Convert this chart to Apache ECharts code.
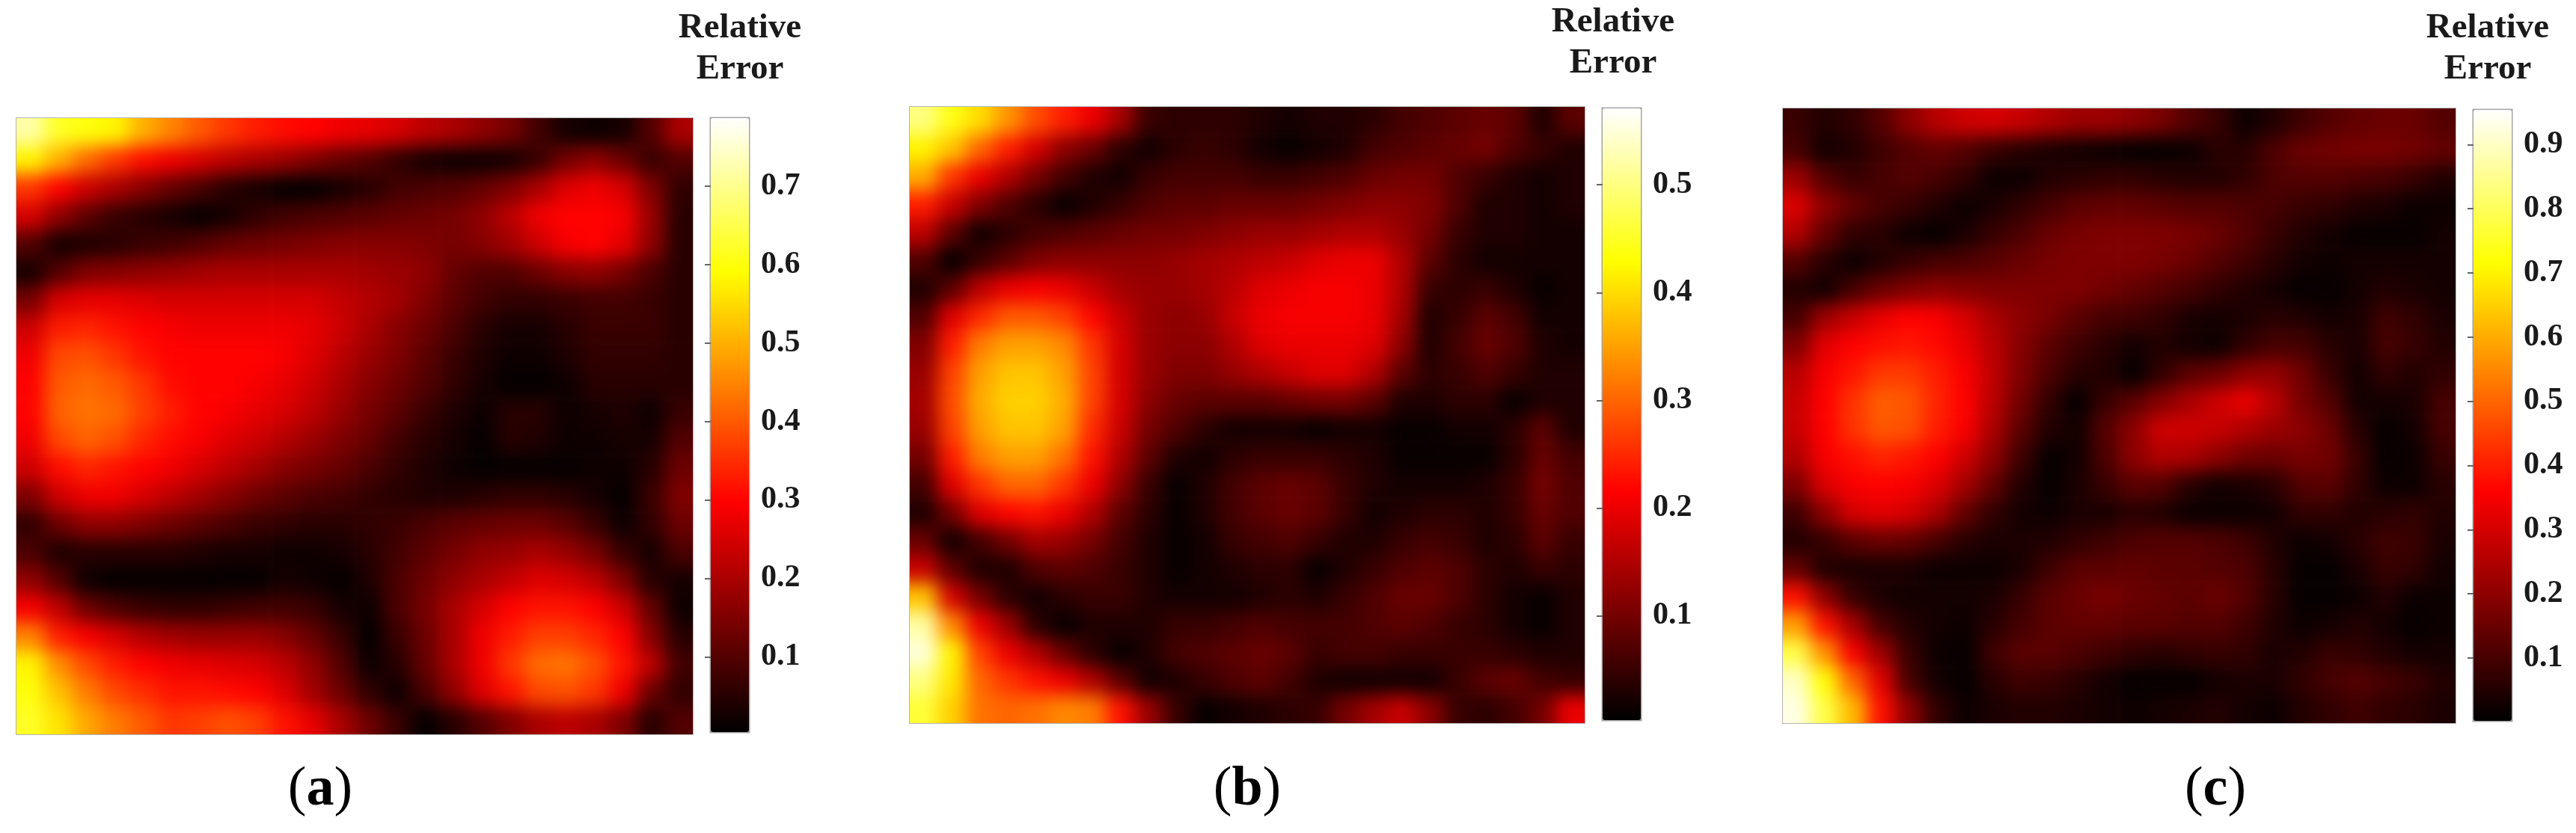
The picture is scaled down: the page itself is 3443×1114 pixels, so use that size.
<!DOCTYPE html>
<html>
<head>
<meta charset="utf-8">
<title>Relative Error</title>
<script src="https://cdn.jsdelivr.net/npm/echarts@6/dist/echarts.min.js"></script>
<style>
html, body { margin: 0; padding: 0; background: #fff; }
#page { position: relative; width: 3443px; height: 1114px; overflow: hidden; }
.plot { position: absolute; overflow: hidden; outline: 2px solid #b4b4b4; outline-offset: -1px; }
.heat { position: absolute; filter: blur(12px); }
#overlay { position: absolute; left: 0; top: 0; width: 3443px; height: 1114px; pointer-events: none; }
</style>
</head>
<body>
<div id="page"></div>
<script>
// values, row by row from the top
const errorA = [
[.72,.62,.60,.58,.50,.45,.40,.36,.33,.31,.30,.28,.27,.25,.22,.20,.17,.14,.08,.03,.02,.03,.10,.20],
[.58,.50,.42,.36,.31,.28,.25,.22,.20,.18,.15,.12,.10,.06,.03,.02,.02,.03,.07,.14,.17,.13,.07,.10],
[.36,.30,.24,.20,.16,.12,.09,.05,.03,.01,.01,.03,.05,.08,.09,.10,.12,.15,.20,.26,.28,.25,.15,.06],
[.25,.17,.11,.07,.05,.03,.01,.03,.06,.08,.09,.10,.11,.12,.13,.14,.17,.22,.28,.30,.30,.29,.18,.05],
[.10,.03,.04,.05,.07,.08,.10,.12,.13,.14,.15,.16,.16,.16,.15,.14,.16,.19,.24,.29,.30,.27,.17,.05],
[.03,.10,.15,.16,.17,.18,.19,.20,.20,.20,.20,.20,.19,.18,.17,.12,.10,.10,.13,.16,.17,.14,.09,.05],
[.14,.25,.27,.27,.26,.25,.25,.25,.25,.25,.25,.23,.21,.19,.15,.11,.08,.06,.06,.07,.08,.08,.07,.05],
[.24,.33,.34,.32,.30,.29,.28,.28,.28,.28,.27,.24,.20,.16,.13,.09,.05,.03,.03,.05,.07,.07,.07,.05],
[.28,.38,.39,.36,.32,.30,.30,.30,.30,.29,.26,.22,.18,.15,.11,.07,.04,.02,.02,.04,.06,.06,.06,.05],
[.30,.40,.42,.40,.36,.31,.30,.30,.29,.27,.24,.20,.16,.13,.10,.06,.03,.01,.01,.02,.05,.05,.05,.05],
[.30,.41,.43,.42,.37,.33,.30,.29,.27,.25,.22,.18,.14,.11,.07,.04,.02,.05,.05,.02,.03,.04,.02,.07],
[.28,.38,.41,.39,.34,.31,.29,.26,.24,.21,.18,.15,.12,.08,.05,.03,.01,.05,.04,.02,.02,.03,.03,.10],
[.24,.31,.34,.32,.30,.28,.25,.22,.19,.16,.14,.12,.09,.06,.04,.02,.01,.01,.01,.01,.02,.02,.05,.13],
[.15,.24,.28,.28,.25,.22,.19,.16,.13,.11,.09,.08,.06,.05,.04,.04,.05,.06,.06,.05,.03,.01,.07,.15],
[.06,.13,.17,.17,.15,.13,.11,.09,.07,.06,.05,.05,.06,.07,.09,.11,.12,.13,.13,.11,.07,.02,.06,.13],
[.09,.04,.05,.05,.05,.05,.04,.03,.03,.02,.02,.03,.05,.08,.11,.14,.17,.18,.20,.18,.14,.07,.03,.09],
[.17,.10,.02,.01,.01,.01,.01,.01,.01,.03,.02,.01,.04,.09,.13,.17,.20,.23,.26,.25,.22,.15,.05,.03],
[.29,.22,.13,.09,.07,.06,.06,.07,.08,.08,.07,.03,.02,.09,.14,.20,.25,.30,.32,.32,.30,.24,.12,.02],
[.45,.33,.29,.25,.21,.19,.18,.18,.18,.16,.12,.07,.01,.07,.13,.20,.28,.33,.37,.37,.34,.30,.16,.05],
[.58,.46,.38,.33,.30,.28,.27,.26,.25,.22,.17,.10,.02,.05,.12,.20,.28,.36,.42,.43,.39,.32,.22,.08],
[.60,.52,.44,.38,.35,.32,.32,.31,.30,.26,.19,.13,.06,.02,.09,.17,.26,.32,.38,.39,.36,.28,.13,.06],
[.62,.56,.49,.44,.40,.36,.37,.39,.37,.32,.27,.20,.13,.07,.01,.05,.10,.15,.20,.22,.20,.15,.05,.10]
];
const errorB = [
[.50,.44,.40,.34,.28,.24,.20,.14,.05,.04,.04,.04,.03,.02,.03,.03,.04,.06,.07,.08,.09,.08,.03,.08],
[.42,.38,.30,.24,.18,.12,.09,.04,.02,.04,.05,.04,.02,.01,.02,.03,.06,.07,.08,.09,.10,.07,.05,.03],
[.36,.26,.20,.15,.10,.06,.03,.02,.05,.06,.06,.06,.05,.05,.06,.07,.09,.10,.10,.07,.05,.03,.02,.03],
[.24,.17,.11,.07,.04,.01,.03,.05,.07,.08,.08,.09,.09,.09,.10,.11,.12,.12,.11,.07,.03,.03,.02,.03],
[.16,.08,.02,.04,.06,.07,.08,.09,.10,.10,.11,.12,.13,.13,.14,.15,.15,.13,.10,.05,.03,.03,.02,.02],
[.07,.01,.05,.08,.11,.12,.12,.12,.12,.13,.14,.15,.16,.17,.19,.20,.20,.15,.08,.04,.02,.02,.02,.02],
[.03,.08,.16,.20,.21,.20,.17,.14,.13,.13,.14,.16,.19,.20,.21,.21,.20,.15,.05,.04,.05,.03,.01,.02],
[.07,.19,.25,.29,.29,.27,.22,.17,.13,.12,.13,.17,.20,.21,.21,.21,.20,.14,.03,.05,.08,.06,.02,.02],
[.11,.24,.32,.35,.35,.33,.26,.18,.13,.12,.12,.15,.19,.20,.20,.20,.19,.12,.03,.06,.09,.07,.03,.02],
[.13,.27,.35,.38,.38,.35,.27,.18,.13,.11,.11,.13,.15,.17,.19,.19,.15,.08,.04,.05,.07,.05,.03,.03],
[.14,.28,.36,.39,.39,.36,.27,.18,.12,.09,.08,.08,.08,.09,.10,.10,.08,.03,.03,.04,.04,.01,.03,.03],
[.13,.27,.35,.38,.38,.35,.25,.17,.10,.07,.04,.02,.02,.02,.01,.02,.02,.01,.01,.02,.02,.04,.08,.03],
[.10,.24,.32,.35,.35,.31,.23,.15,.08,.03,.02,.04,.05,.05,.05,.04,.03,.01,.01,.01,.01,.04,.09,.06],
[.06,.19,.26,.30,.30,.26,.20,.12,.05,.01,.03,.06,.08,.09,.08,.05,.03,.02,.02,.02,.03,.05,.10,.07],
[.03,.10,.19,.22,.23,.20,.15,.08,.04,.01,.03,.06,.08,.09,.08,.05,.02,.03,.04,.04,.03,.05,.09,.07],
[.09,.02,.06,.10,.14,.13,.10,.06,.03,.01,.02,.05,.06,.07,.05,.03,.03,.05,.06,.05,.03,.04,.08,.05],
[.17,.08,.03,.03,.07,.08,.07,.05,.03,.01,.02,.03,.04,.04,.01,.03,.05,.07,.08,.07,.04,.03,.05,.04],
[.38,.18,.10,.04,.02,.04,.05,.05,.03,.02,.02,.02,.03,.04,.03,.05,.07,.09,.09,.07,.04,.02,.01,.03],
[.52,.33,.20,.13,.04,.01,.03,.03,.03,.05,.05,.06,.07,.06,.06,.06,.07,.08,.07,.05,.04,.02,.01,.03],
[.55,.42,.27,.20,.15,.09,.04,.01,.03,.06,.07,.08,.09,.08,.05,.06,.06,.05,.05,.05,.05,.04,.03,.03],
[.50,.41,.30,.26,.23,.20,.15,.08,.02,.03,.05,.07,.08,.06,.03,.02,.02,.02,.02,.05,.08,.09,.06,.05],
[.46,.39,.31,.30,.31,.33,.32,.23,.13,.05,.01,.02,.03,.04,.05,.10,.14,.17,.12,.05,.04,.06,.10,.20]
];
const errorC = [
[.08,.05,.07,.12,.20,.26,.29,.30,.28,.25,.22,.22,.20,.17,.12,.08,.02,.05,.09,.12,.14,.15,.15,.12],
[.10,.03,.05,.09,.12,.14,.12,.08,.06,.04,.03,.02,.01,.01,.02,.06,.06,.11,.15,.16,.17,.17,.16,.14],
[.22,.12,.08,.10,.12,.10,.07,.02,.02,.05,.06,.07,.07,.06,.05,.05,.07,.11,.12,.12,.11,.10,.08,.05],
[.31,.20,.14,.10,.08,.05,.02,.04,.07,.10,.13,.14,.14,.13,.12,.12,.11,.10,.08,.07,.05,.04,.02,.02],
[.25,.14,.07,.06,.02,.01,.04,.08,.11,.15,.17,.18,.18,.18,.17,.15,.12,.08,.05,.03,.01,.01,.01,.03],
[.12,.06,.02,.05,.08,.10,.11,.13,.15,.17,.18,.18,.18,.17,.15,.12,.09,.06,.03,.02,.03,.03,.03,.03],
[.05,.03,.10,.15,.18,.20,.19,.18,.18,.18,.18,.16,.14,.12,.10,.07,.05,.03,.01,.01,.03,.05,.04,.03],
[.10,.22,.28,.33,.36,.35,.30,.24,.20,.17,.13,.10,.09,.07,.04,.03,.04,.06,.05,.03,.04,.09,.07,.04],
[.18,.32,.36,.38,.39,.37,.33,.26,.19,.13,.09,.06,.03,.05,.03,.02,.07,.10,.10,.06,.04,.10,.08,.05],
[.26,.35,.39,.44,.44,.40,.35,.27,.18,.11,.06,.05,.01,.07,.13,.15,.20,.21,.16,.08,.03,.07,.05,.07],
[.28,.36,.43,.49,.48,.41,.36,.26,.16,.07,.01,.08,.13,.19,.24,.29,.33,.26,.17,.12,.03,.03,.04,.10],
[.28,.36,.43,.48,.47,.40,.35,.24,.13,.05,.03,.12,.20,.29,.29,.28,.25,.22,.20,.15,.06,.01,.03,.10],
[.25,.35,.38,.41,.39,.36,.29,.20,.09,.01,.03,.11,.20,.25,.24,.20,.16,.15,.17,.16,.08,.01,.02,.08],
[.18,.31,.35,.36,.35,.31,.23,.14,.05,.01,.04,.08,.13,.12,.06,.03,.04,.06,.12,.13,.07,.02,.02,.06],
[.09,.20,.30,.32,.30,.24,.14,.07,.03,.02,.04,.04,.06,.05,.02,.02,.02,.03,.07,.07,.05,.06,.07,.05],
[.05,.08,.13,.15,.14,.10,.06,.04,.04,.05,.07,.09,.11,.12,.12,.11,.09,.05,.02,.03,.06,.09,.08,.04],
[.14,.05,.04,.04,.04,.02,.02,.02,.04,.09,.13,.13,.14,.13,.13,.12,.11,.06,.01,.01,.04,.08,.07,.03],
[.38,.20,.08,.04,.03,.03,.03,.04,.08,.13,.15,.17,.15,.14,.13,.15,.12,.06,.01,.01,.02,.05,.02,.02],
[.58,.38,.23,.10,.05,.03,.02,.06,.10,.13,.14,.14,.13,.13,.12,.12,.09,.05,.02,.03,.05,.03,.01,.02],
[.78,.56,.35,.22,.08,.02,.01,.09,.13,.13,.11,.09,.07,.06,.07,.08,.07,.04,.05,.08,.07,.05,.03,.03],
[.90,.72,.50,.32,.10,.03,.01,.06,.09,.08,.06,.03,.01,.01,.01,.03,.04,.04,.07,.10,.12,.10,.08,.05],
[.93,.78,.62,.38,.20,.07,.02,.04,.05,.05,.04,.03,.02,.03,.04,.05,.03,.02,.05,.07,.09,.07,.06,.04]
];
const ticksA = [0.1, 0.2, 0.3, 0.4, 0.5, 0.6, 0.7];
const ticksB = [0.1, 0.2, 0.3, 0.4, 0.5];
const ticksC = [0.1, 0.2, 0.3, 0.4, 0.5, 0.6, 0.7, 0.8, 0.9];
const panelLabels = ['a', 'b', 'c'];
const barTitle = 'Relative\nError';

// matlab "hot"
const hot = ['#000000', '#550000', '#aa0000', '#ff0000', '#ff5500', '#ffaa00', '#ffff00', '#ffff80', '#ffffff'];

const panels = [
  { data: errorA, ticks: ticksA, label: panelLabels[0], min: 0.004, max: 0.787, x: 22, y: 158, w: 904, h: 824, barX: 950, barY: 158, barH: 821, titleX: 984, titleY: 5, labelX: 423, labelY: 1060 },
  { data: errorB, ticks: ticksB, label: panelLabels[1], min: 0.003, max: 0.571, x: 1216, y: 143, w: 902, h: 824, barX: 2142, barY: 145, barH: 818, titleX: 2151, titleY: -3, labelX: 1662, labelY: 1060 },
  { data: errorC, ticks: ticksC, label: panelLabels[2], min: 0.002, max: 0.954, x: 2383, y: 145, w: 899, h: 822, barX: 3306, barY: 147, barH: 817, titleX: 3320, titleY: 5, labelX: 2956, labelY: 1060 }
];
const barW = 51;
const ring = 2; // extra cells past the edge so the blur does not fade out there

const page = document.getElementById('page');

panels.forEach(function (p) {
  const rows = p.data.length, cols = p.data[0].length;
  const cw = p.w / cols, ch = p.h / rows;

  const box = document.createElement('div');
  box.className = 'plot';
  box.style.cssText = 'left:' + p.x + 'px;top:' + p.y + 'px;width:' + p.w + 'px;height:' + p.h + 'px';
  const el = document.createElement('div');
  el.className = 'heat';
  el.style.cssText = 'left:' + (-ring * cw) + 'px;top:' + (-ring * ch) + 'px;width:' + (p.w + 2 * ring * cw) + 'px;height:' + (p.h + 2 * ring * ch) + 'px';
  box.appendChild(el);
  page.appendChild(box);

  const xCats = [], yCats = [], cells = [];
  for (let i = 0; i < cols + 2 * ring; i++) xCats.push(i);
  for (let j = 0; j < rows + 2 * ring; j++) yCats.push(j);
  for (let j = 0; j < rows + 2 * ring; j++) {
    for (let i = 0; i < cols + 2 * ring; i++) {
      const r = Math.min(rows - 1, Math.max(0, j - ring));
      const c = Math.min(cols - 1, Math.max(0, i - ring));
      cells.push([i, j, p.data[r][c]]);
    }
  }

  const chart = echarts.init(el);
  chart.setOption({
    animation: false,
    grid: { left: 0, right: 0, top: 0, bottom: 0 },
    xAxis: { type: 'category', data: xCats, show: false },
    yAxis: { type: 'category', data: yCats, show: false, inverse: true },
    visualMap: { show: false, min: p.min, max: p.max, inRange: { color: hot } },
    series: [{ type: 'heatmap', data: cells, progressive: 0 }]
  });
});

// colour bars, tick labels and titles go on top, unblurred
const overlay = document.createElement('div');
overlay.id = 'overlay';
page.appendChild(overlay);
const top_ = echarts.init(overlay);
top_.setOption({
  animation: false,
  title: panels.map(function (p) {
    return {
      text: barTitle, left: p.titleX, top: p.titleY, textAlign: 'center',
      textStyle: { fontFamily: 'Liberation Serif', fontWeight: 'bold', fontSize: 47, lineHeight: 55, color: '#1a1a1a' }
    };
  }).concat(panels.map(function (p) {
    return {
      text: '{p|(}{b|' + p.label + '}{p|)}', left: p.labelX, top: p.labelY - 45, textAlign: 'center',
      textStyle: { fontWeight: 'normal', rich: {
        p: { fontFamily: 'Liberation Serif', fontSize: 74, fontWeight: 'normal', color: '#000' },
        b: { fontFamily: 'Liberation Serif', fontSize: 74, fontWeight: 'bold', color: '#000' }
      } }
    };
  })),
  visualMap: panels.map(function (p) {
    return {
      type: 'continuous', seriesIndex: [], min: p.min, max: p.max, left: p.barX, top: p.barY,
      itemWidth: barW, itemHeight: p.barH, calculable: false, showLabel: false, text: null,
      padding: 0, inRange: { color: hot }
    };
  }),
  grid: panels.map(function (p) {
    return {
      left: p.barX, top: p.barY, width: barW, height: p.barH, show: true,
      borderColor: '#a6a6a6', borderWidth: 3, backgroundColor: 'transparent'
    };
  }),
  xAxis: panels.map(function (p, i) {
    return { type: 'value', gridIndex: i, show: false, min: 0, max: 1 };
  }),
  yAxis: panels.map(function (p, i) {
    return {
      type: 'value', gridIndex: i, min: p.min, max: p.max, position: 'right',
      axisLine: { show: false },
      axisTick: { show: true, inside: true, length: 8, customValues: p.ticks, lineStyle: { color: '#666', width: 2 } },
      splitLine: { show: false },
      axisLabel: {
        customValues: p.ticks, margin: 16, fontFamily: 'Liberation Serif', fontWeight: 'bold', fontSize: 42, color: '#1a1a1a',
        formatter: function (v) { return v.toFixed(1); }
      }
    };
  }),
  series: []
});
</script>
</body>
</html>
